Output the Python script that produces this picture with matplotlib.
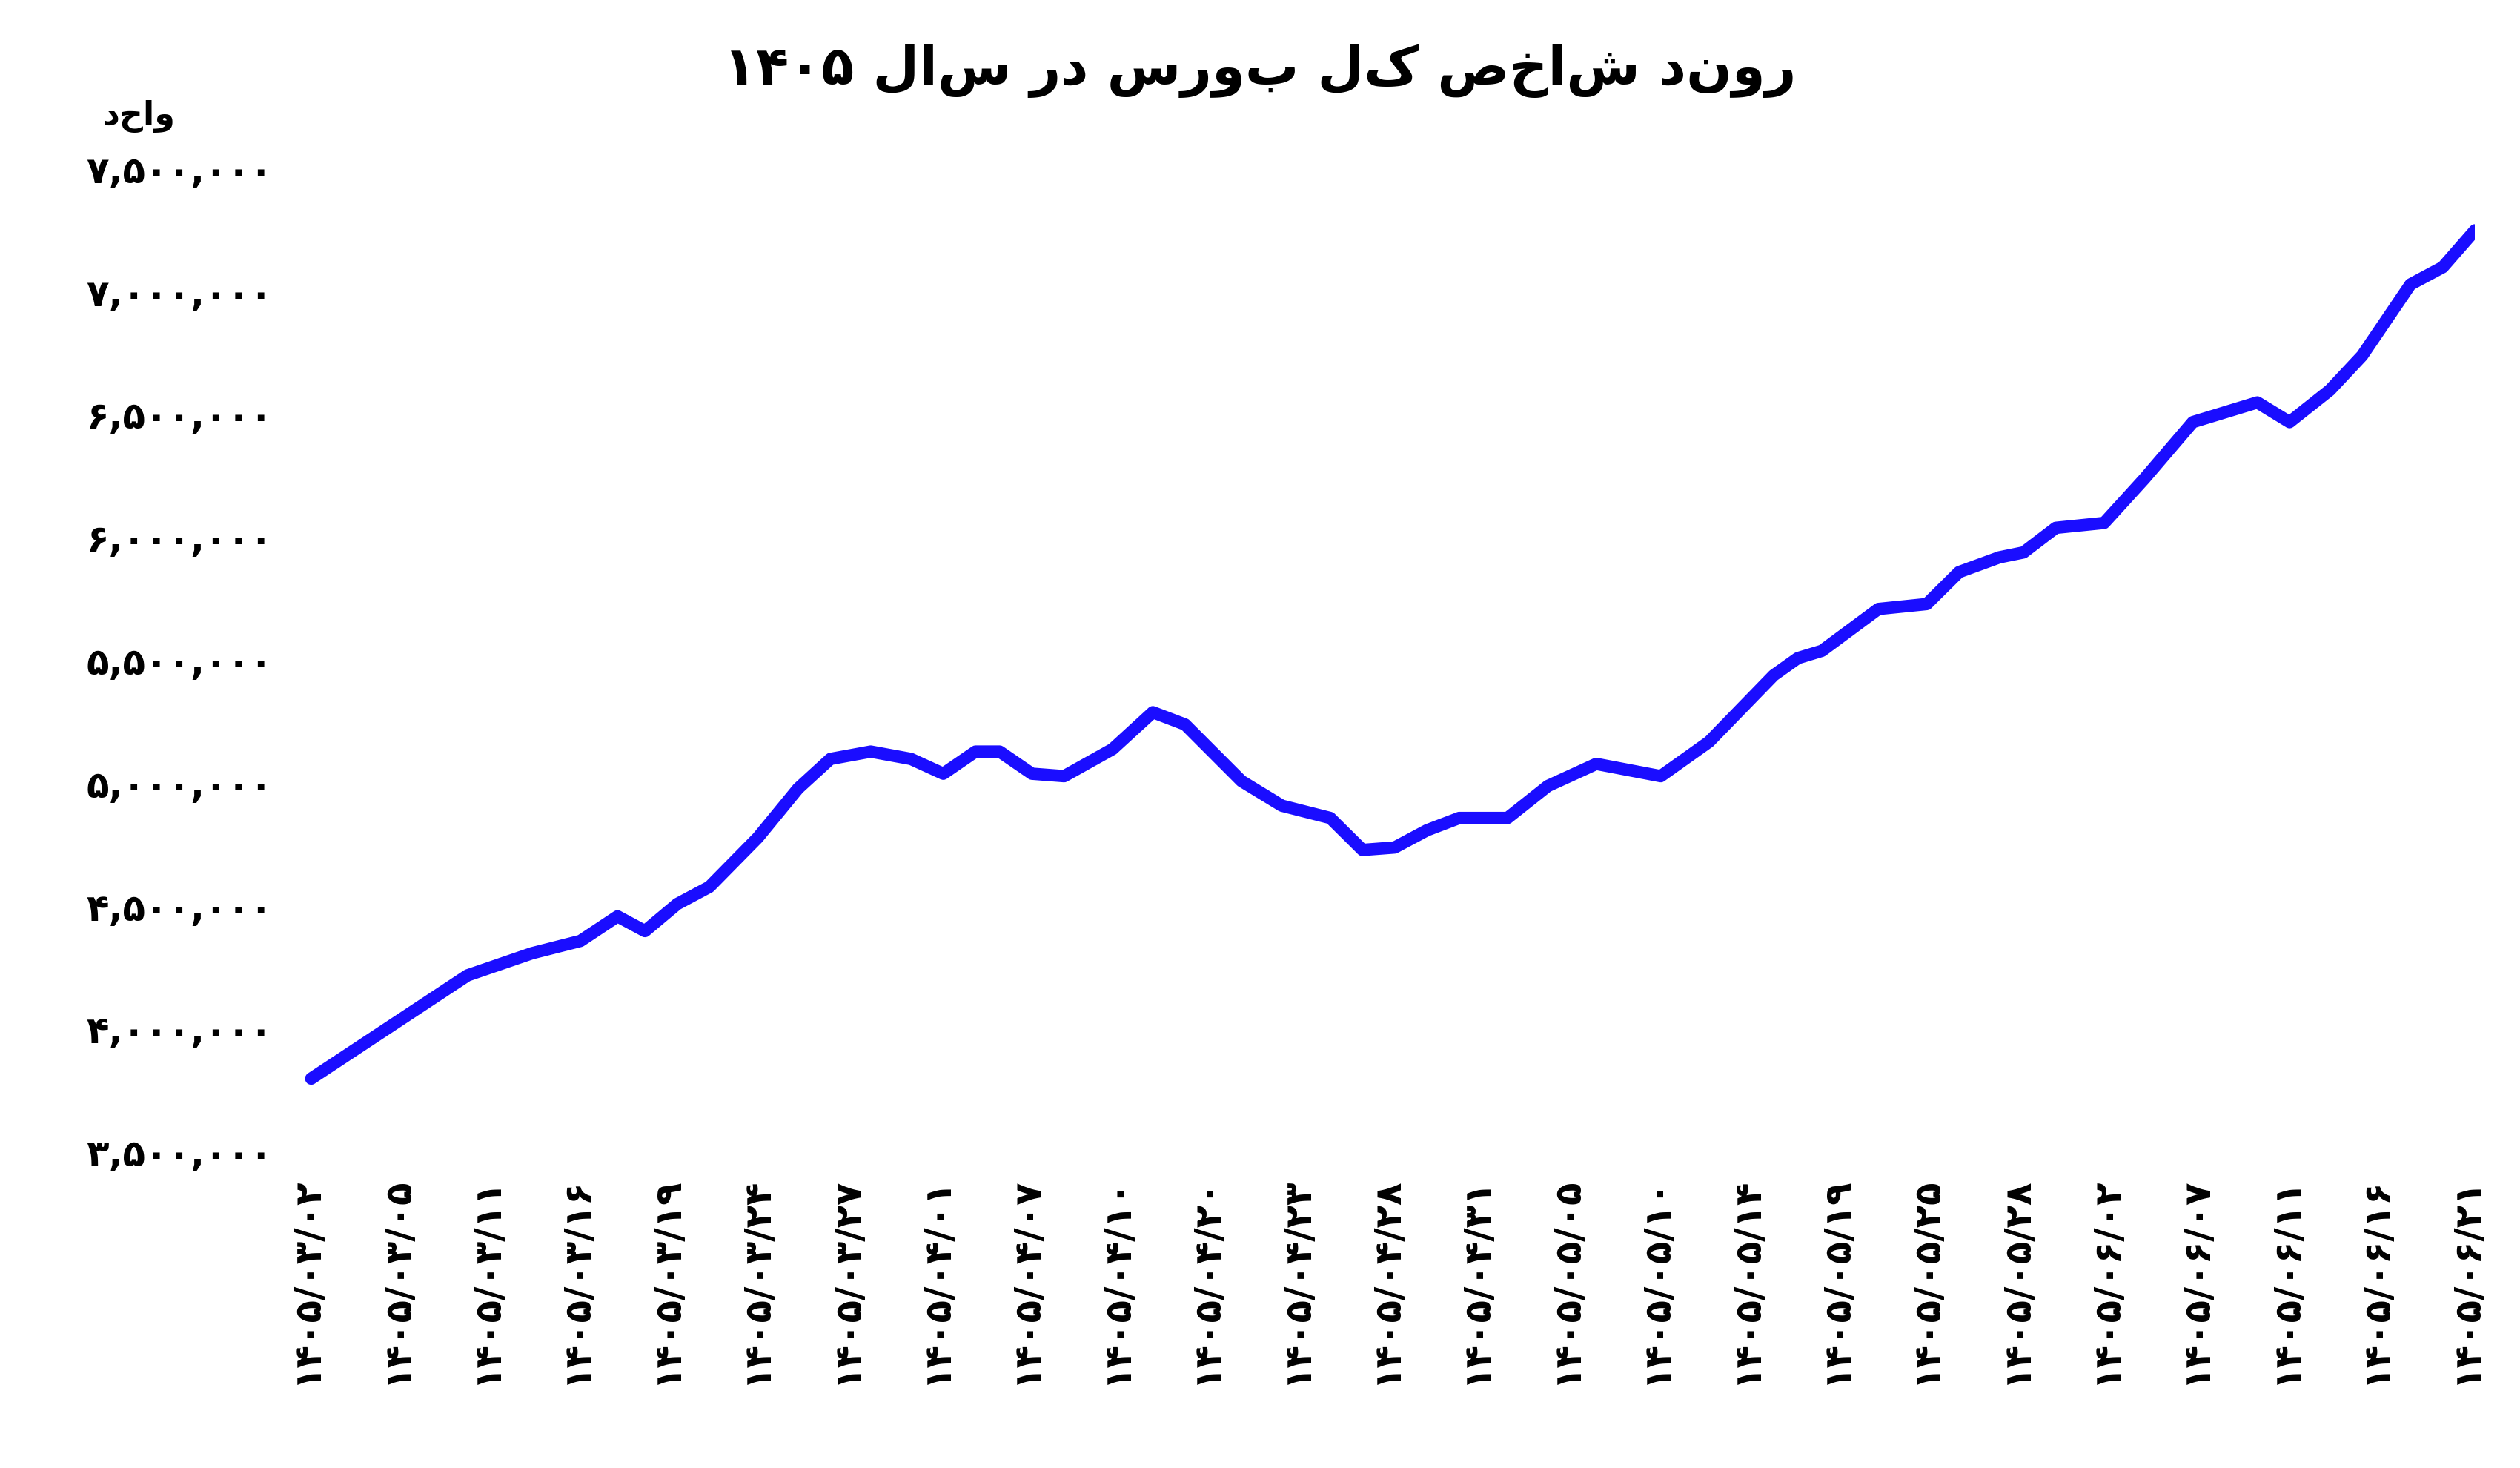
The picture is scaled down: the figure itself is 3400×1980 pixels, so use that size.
import matplotlib
matplotlib.use('Agg')
import matplotlib.pyplot as plt

plt.rcParams['font.family'] = ['DejaVu Sans']

title_words = 'روند شاخص کل بورس در سال'
title_year = '۱۴۰۵'
unit = 'واحد'

date_labels = ['۱۴۰۵/۰۳/۰۲', '۱۴۰۵/۰۳/۰۵', '۱۴۰۵/۰۳/۱۱', '۱۴۰۵/۰۳/۱۶', '۱۴۰۵/۰۳/۱۹',
               '۱۴۰۵/۰۳/۲۴', '۱۴۰۵/۰۳/۲۷', '۱۴۰۵/۰۴/۰۱', '۱۴۰۵/۰۴/۰۷', '۱۴۰۵/۰۴/۱۰',
               '۱۴۰۵/۰۴/۲۰', '۱۴۰۵/۰۴/۲۳', '۱۴۰۵/۰۴/۲۸', '۱۴۰۵/۰۴/۳۱', '۱۴۰۵/۰۵/۰۵',
               '۱۴۰۵/۰۵/۱۰', '۱۴۰۵/۰۵/۱۴', '۱۴۰۵/۰۵/۱۹', '۱۴۰۵/۰۵/۲۵', '۱۴۰۵/۰۵/۲۸',
               '۱۴۰۵/۰۶/۰۲', '۱۴۰۵/۰۶/۰۷', '۱۴۰۵/۰۶/۱۱', '۱۴۰۵/۰۶/۱۶', '۱۴۰۵/۰۶/۲۱']

# position along the date axis (read in pixels off the reference) and index value in millions
pos_px = [193, 290, 330, 360, 383, 400, 420, 440, 470, 495, 515, 540, 565, 585, 605, 620,
          640, 660, 690, 715, 735, 770, 795, 825, 845, 865, 885, 905, 935, 960, 990, 1030,
          1060, 1100, 1115, 1130, 1165, 1195, 1215, 1240, 1255, 1275, 1305, 1330, 1360, 1385,
          1400, 1420, 1445, 1465, 1495, 1515, 1535]
values = [3.80, 4.22, 4.31, 4.36, 4.46, 4.40, 4.51, 4.58, 4.78, 4.98, 5.10, 5.13, 5.10, 5.04,
          5.13, 5.13, 5.04, 5.03, 5.14, 5.29, 5.24, 5.01, 4.91, 4.86, 4.73, 4.74, 4.81, 4.86,
          4.86, 4.99, 5.08, 5.03, 5.17, 5.44, 5.51, 5.54, 5.71, 5.73, 5.86, 5.92, 5.94, 6.04,
          6.06, 6.24, 6.47, 6.52, 6.55, 6.47, 6.60, 6.74, 7.03, 7.10, 7.25]

x = [(p - 190) / 55.8 for p in pos_px]
y = [v * 1e6 for v in values]

fa = str.maketrans('0123456789', '۰۱۲۳۴۵۶۷۸۹')
yticks = [3.5e6 + i * 5e5 for i in range(9)]
ylabels = [f'{int(t):,}'.translate(fa) for t in yticks]

fig, ax = plt.subplots(figsize=(17, 9.9), dpi=200)
fig.subplots_adjust(left=0.118, right=0.982, top=0.885, bottom=0.215)

ax.plot(x, y, color='#1a0dff', lw=6, solid_joinstyle='round', solid_capstyle='round')

ax.set_ylim(3.5e6, 7.5e6)
ax.set_xlim(-0.1, 24.1)
ax.set_yticks(yticks)
ax.set_yticklabels(ylabels, fontsize=18, fontweight='bold')
ax.set_xticks(range(len(date_labels)))
ax.set_xticklabels(date_labels, rotation=90, fontsize=18, fontweight='bold')
ax.tick_params(length=0, pad=12)
for s in ax.spines.values():
    s.set_visible(False)

fig.suptitle(title_year + ' ' + title_words[::-1], fontsize=26, fontweight='bold', x=0.5, y=0.97)
fig.text(0.055, 0.915, unit[::-1], fontsize=16, fontweight='bold', ha='center')

fig.savefig('out.png')
